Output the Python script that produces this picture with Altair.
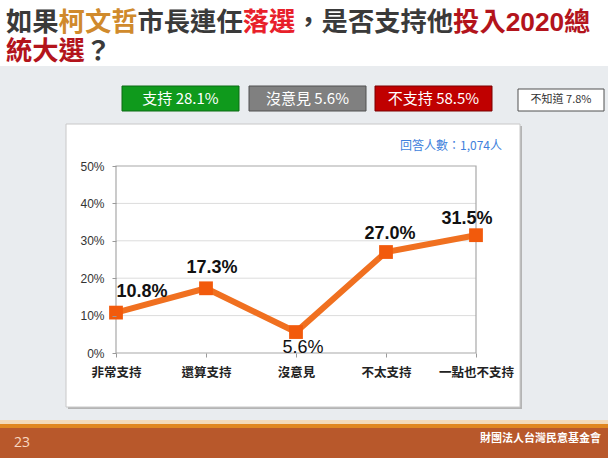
import altair as alt
import pandas as pd

# ---------------- data ----------------
categories = ["非常支持", "還算支持", "沒意見", "不太支持", "一點也不支持"]
values = [10.8, 17.3, 5.6, 27.0, 31.5]
value_labels = ["10.8%", "17.3%", "5.6%", "27.0%", "31.5%"]
y_ticks = [0, 10, 20, 30, 40, 50]
grid_values = [10, 20, 30, 40]

legend_texts = ["支持 28.1%", "沒意見 5.6%", "不支持 58.5%", "不知道 7.8%"]
sample_text = "回答人數：1,074人"
title_line1 = [("如果", "#3a3a3a"), ("柯文哲", "#d08a2c"), ("市長連任", "#3a3a3a"),
               ("落選", "#e8202a"), ("，是否支持他", "#3a3a3a"), ("投入", "#b3141c"),
               ("2020", "#b3141c"), ("總", "#b3141c")]
title_line2 = [("統大選", "#b3141c"), ("？", "#3a3a3a")]
footer_page = "23"
footer_org = "財團法人台灣民意基金會"

# ---------------- layout ----------------
W, H = 608, 458
PL, PT = 116, 166          # plot origin on page
PW, PH = 360, 187          # plot size
CJK = "Noto Sans CJK TC"
LAT = "Liberation Sans"

df = pd.DataFrame({"cat": categories, "val": values, "lab": value_labels})
one = pd.DataFrame({"d": [0]})


def box(x1, y1, x2, y2, fill, stroke=None, sw=0):
    kw = dict(fill=fill)
    if stroke:
        kw.update(stroke=stroke, strokeWidth=sw)
    else:
        kw.update(strokeWidth=0)
    return alt.Chart(one).mark_rect(**kw).encode(
        x=alt.value(x1 - PL), x2=alt.value(x2 - PL),
        y=alt.value(y1 - PT), y2=alt.value(y2 - PT))


def txt(s, x, y, size, color, weight="normal", align="left", font=CJK, baseline="middle"):
    return alt.Chart(one).mark_text(
        text=s, fontSize=size, color=color, fontWeight=weight, align=align,
        baseline=baseline, font=font).encode(
        x=alt.value(x - PL), y=alt.value(y - PT))


layers = []
# slide backgrounds
layers.append(box(0, 0, W, 66, "#ffffff"))
layers.append(box(0, 420, W, 424, "#f3d9b8"))
layers.append(box(0, 424, W, 428, "#e0861f"))
layers.append(box(0, 428, W, H, "#b8582b"))
# chart box with shadow
layers.append(box(68, 126, 522, 409, "#b4b4b4"))
layers.append(box(66, 124, 520, 407, "#ffffff", "#c8c8c8", 1))

# title (mixed colours)
EM = 26.3
DIG = 14.6
for line, yb in ((title_line1, 30.8), (title_line2, 59.5)):
    x = 6
    for seg, col in line:
        if seg.isascii():
            layers.append(txt(seg, x, yb, EM, col, weight="bold", font=LAT,
                              baseline="alphabetic"))
            x += DIG * len(seg)
        else:
            layers.append(txt(seg, x, yb, EM, col, weight="bold", baseline="alphabetic"))
            x += EM * len(seg)

# summary boxes
legend_boxes = [(122, 86, 239, 111, "#0f9a1c", "#0b6a12", "#ffffff", 15),
                (249, 86, 366, 111, "#808080", "#505050", "#ffffff", 15),
                (375, 86, 492, 111, "#c00000", "#7a0000", "#ffffff", 15),
                (518, 89, 604, 111, "#ffffff", "#505050", "#333333", 11)]
for (x1, y1, x2, y2, f, s, tc, fs), t in zip(legend_boxes, legend_texts):
    layers.append(box(x1, y1, x2, y2, f, s, 1))
    layers.append(txt(t, (x1 + x2) / 2, (y1 + y2) / 2, fs, tc, align="center"))

layers.append(txt(sample_text, 502, 146, 12, "#3e7fdc", align="right"))
layers.append(txt(footer_page, 14, 443, 14, "#f8d8c2", font="Open Sans"))
layers.append(txt(footer_org, 601, 439, 11, "#ffffff", weight="bold", align="right"))

# ---------------- chart ----------------
xscale = alt.Scale(type="point", padding=0, domain=categories)
xaxis = alt.Axis(title=None, labelAngle=0, labelFont=CJK, labelFontSize=12.5,
                 labelColor="#222222", labelFontWeight="bold",
                 domain=False, ticks=True, tickSize=4, tickColor="#9a9a9a",
                 labelPadding=9, grid=False, zindex=1)
yscale = alt.Scale(domain=[0, 50], nice=False, zero=True)
yaxis = alt.Axis(title=None, values=y_ticks, labelExpr="datum.value + '%'",
                 labelFont=LAT, labelFontSize=12, labelColor="#333333",
                 domain=False, ticks=True, tickSize=4, tickColor="#9a9a9a",
                 labelPadding=8, grid=False, zindex=1)
xenc = alt.X("cat:N", sort=categories, scale=xscale, axis=xaxis)
yenc = alt.Y("val:Q", scale=yscale, axis=yaxis)

grid = alt.Chart(pd.DataFrame({"g": grid_values})).mark_rule(
    color="#dcdcdc", strokeWidth=1).encode(y=alt.Y("g:Q", scale=yscale, axis=yaxis))
frame = alt.Chart(one).mark_rect(fill="transparent", stroke="#a8a8a8", strokeWidth=1.2).encode(
    x=alt.value(0), x2=alt.value(PW), y=alt.value(0), y2=alt.value(PH))

base = alt.Chart(df)
line = base.mark_line(color="#f07020", strokeWidth=6).encode(x=xenc, y=yenc)
pts = base.mark_point(shape="square", filled=True, size=190, color="#f25a0c",
                      opacity=1).encode(x=xenc, y=yenc)

label_dx = [26, 6, 7, 4, -9]
label_dy = [-21, -20, 16, -18, -16]
lab_layers = []
for i, c in enumerate(categories):
    bold = i != 2
    sub = df[df["cat"] == c]
    lab_layers.append(alt.Chart(sub).mark_text(
        fontSize=18, fontWeight="bold" if bold else "normal",
        font=LAT, color="#111111", dx=label_dx[i], dy=label_dy[i],
        baseline="middle", align="center").encode(x=xenc, y=yenc, text="lab:N"))

chart = alt.layer(*layers, grid, frame, line, pts, *lab_layers).properties(
    width=PW, height=PH,
    padding={"left": PL, "top": PT, "right": W - PL - PW, "bottom": H - PT - PH},
    autosize=alt.AutoSizeParams(type="none"),
    background="#e9ecef",
).configure_view(stroke=None)

chart.save("out.html", embed_options={"renderer": "svg", "actions": False})
